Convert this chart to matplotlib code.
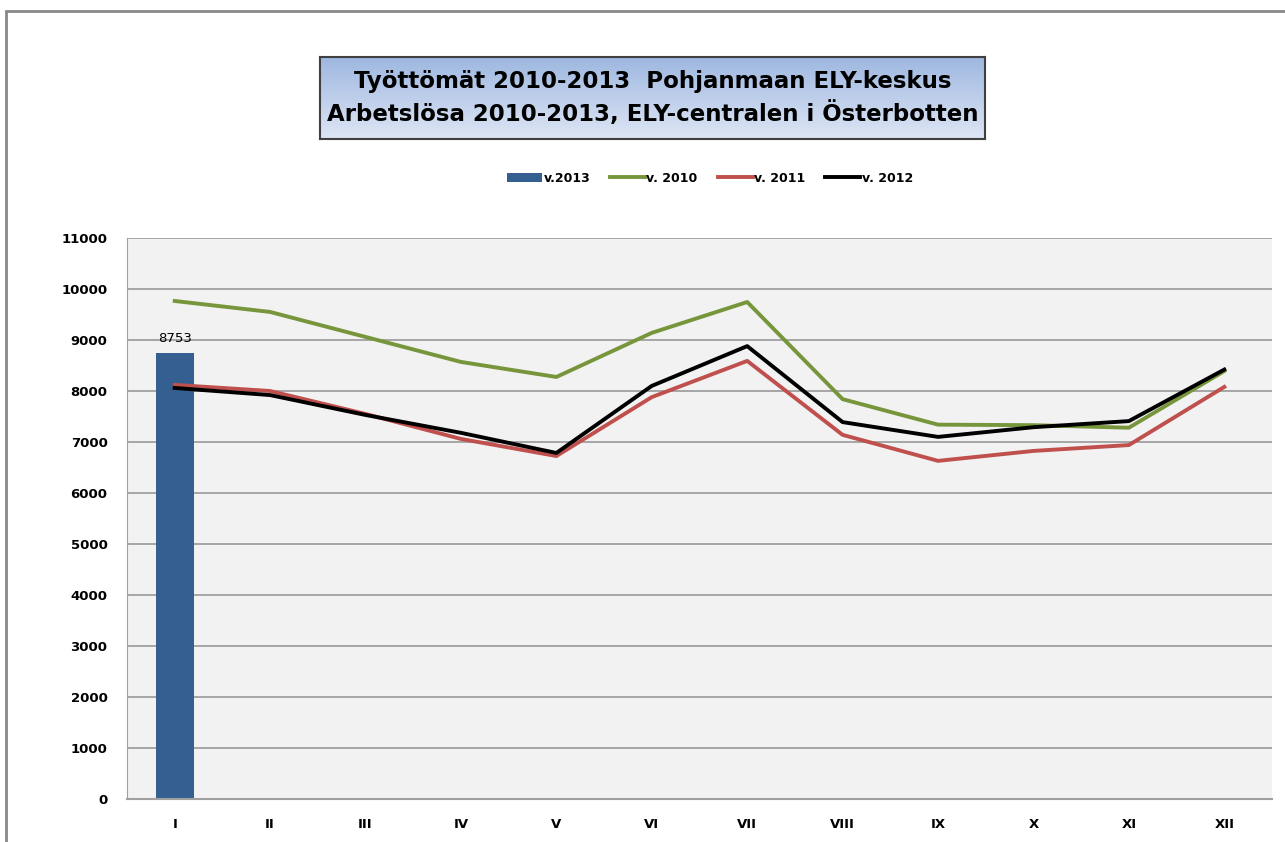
import numpy as np
import matplotlib.pyplot as plt
from matplotlib.patches import Rectangle

# monthly data
months = ['I', 'II', 'III', 'IV', 'V', 'VI', 'VII', 'VIII', 'IX', 'X', 'XI', 'XII']
v2013 = [8753]
v2010 = [9765, 9550, 9060, 8570, 8275, 9140, 9745, 7840, 7340, 7330, 7280, 8390]
v2011 = [8120, 8000, 7550, 7060, 6725, 7880, 8590, 7140, 6630, 6825, 6940, 8080]
v2012 = [8060, 7920, 7530, 7180, 6785, 8100, 8880, 7390, 7100, 7290, 7410, 8420]

plt.rcParams['font.family'] = ['DejaVu Sans']

fig = plt.figure(figsize=(12.85, 8.42), dpi=100)
W, H = 1285, 842
ax = fig.add_axes([127 / W, 1 - 799 / H, (1272 - 127) / W, (799 - 238) / H])
ax.set_facecolor('#f2f2f2')

x = np.arange(len(months))
bars = ax.bar(x[:len(v2013)], v2013, width=0.4, color='#355f91', label='v.2013', zorder=2)
for b, v in zip(bars, v2013):
    ax.text(b.get_x() + b.get_width() / 2, v + 150, str(v), ha='center', va='bottom',
            fontsize=9.5, color='black')
l1, = ax.plot(x, v2010, color='#77963c', lw=2.8, label='v. 2010', zorder=3)
l2, = ax.plot(x, v2011, color='#c0504d', lw=2.8, label='v. 2011', zorder=3)
l3, = ax.plot(x, v2012, color='black', lw=2.8, label='v. 2012', zorder=4)

ax.set_xlim(-0.5, 11.5)
ax.set_ylim(0, 11000)
ax.set_yticks(range(0, 11001, 1000))
ax.set_xticks(x)
ax.set_xticklabels(months)
ax.yaxis.grid(True, color='#a0a0a0', lw=1.3, zorder=0)
ax.set_axisbelow(True)
for s in ['top', 'right']:
    ax.spines[s].set_visible(False)
ax.spines['left'].set_color('#a0a0a0')
ax.spines['bottom'].set_color('#a0a0a0')
ax.spines['bottom'].set_linewidth(1.5)
ax.tick_params(length=0, labelsize=9.5)
for lbl in ax.get_xticklabels() + ax.get_yticklabels():
    lbl.set_fontweight('bold')
ax.tick_params(axis='x', pad=14)
ax.tick_params(axis='y', pad=14)

fig.legend([bars, l1, l2, l3], ['v.2013', 'v. 2010', 'v. 2011', 'v. 2012'],
           loc='center', bbox_to_anchor=(710 / W, 1 - 178 / H), ncol=4, frameon=False,
           prop={'weight': 'bold', 'size': 9}, handlelength=2.8, handletextpad=0.1,
           columnspacing=1.6)

# title box with gradient
tax = fig.add_axes([320 / W, 1 - 139 / H, (985 - 320) / W, (139 - 57) / H])
grad = np.linspace(0, 1, 100).reshape(-1, 1)
top = np.array([0.62, 0.72, 0.88])
bot = np.array([0.87, 0.90, 0.96])
img = top + (bot - top) * grad[:, :, None] * np.ones((1, 2, 1))
tax.imshow(img, aspect='auto', extent=[0, 1, 0, 1], origin='upper')
tax.set_xlim(0, 1)
tax.set_ylim(0, 1)
tax.set_xticks([])
tax.set_yticks([])
for s in tax.spines.values():
    s.set_color('#404040')
    s.set_linewidth(1.5)
tax.text(0.5, 0.5, 'Työttömät 2010-2013  Pohjanmaan ELY-keskus\nArbetslösa 2010-2013, ELY-centralen i Österbotten',
         ha='center', va='center', fontsize=16.5, fontweight='bold', linespacing=1.4)

# outer frame
fig.add_artist(Rectangle((6 / W, -0.1), 1.5, 1 - 11 / H + 0.1, transform=fig.transFigure,
                         fill=False, edgecolor='#888888', lw=2))

fig.savefig('out.png', dpi=100)
